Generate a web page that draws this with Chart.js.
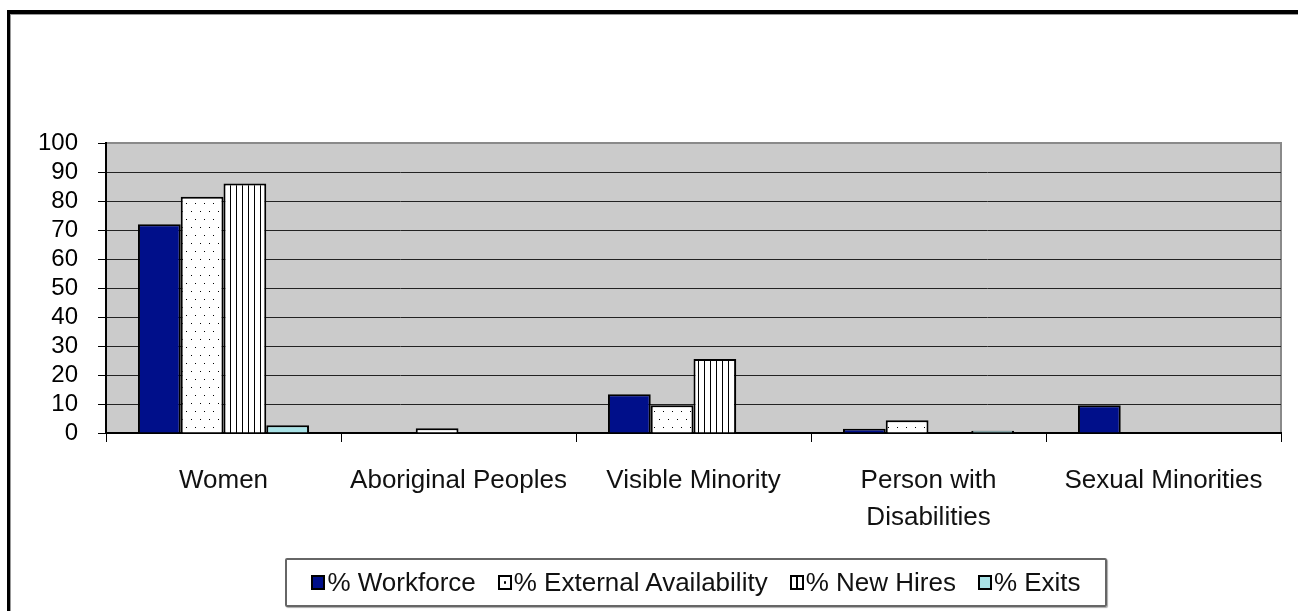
<!DOCTYPE html>
<html>
<head>
<meta charset="utf-8">
<script src="https://cdn.jsdelivr.net/npm/chart.js@4.4.1/dist/chart.umd.min.js"></script>
<style>
  html, body { margin: 0; padding: 0; background: #fff; }
  #wrap { position: relative; width: 1298px; height: 611px; overflow: hidden; }
  #chart-box { position: absolute; left: 0; top: 0; width: 1298px; height: 611px; }
  .frame { position: absolute; left: 7px; top: 10px; width: 1400px; height: 700px;
           border-left: 3px solid #000; border-top: 4px solid #000; }
  .frame-inner { position: absolute; left: 0; top: 0; width: 100%; height: 100%;
                 border-left: 1px solid #999; border-top: 1px solid #999; }
  #legend { position: absolute; left: 285px; top: 558px; width: 818px; height: 45px;
            border: 2px solid #666; border-radius: 2px; box-shadow: 1px 1px 1px #aaa;
            display: flex; align-items: center; justify-content: center; gap: 22px;
            font-family: "Liberation Sans", Arial, sans-serif; font-size: 26px; color: #111;
            white-space: nowrap; }
  .item { display: flex; align-items: center; }
  .sw { display: inline-block; width: 10px; height: 11px; border: 2px solid #000;
        margin-right: 2px; box-sizing: content-box; position: relative; }
</style>
</head>
<body>
<div id="wrap">
  <div class="frame"><div class="frame-inner"></div></div>
  <div id="chart-box"><canvas id="chart"></canvas></div>
  <div id="legend"></div>
</div>
<script>
// ── Data ─────────────────────────────────────────────────────────────────────

const categories = ['Women', 'Aboriginal Peoples', 'Visible Minority', ['Person with', 'Disabilities'], 'Sexual Minorities'];
const seriesNames = ['% Workforce', '% External Availability', '% New Hires', '% Exits'];
const workforce = [72, 0, 13.4, 1.5, 9.6];
const externalAvailability = [81.5, 1.6, 9.6, 4.4, 0];
const newHires = [86, 0, 25.5, 0, 0];
const exits = [2.7, 0, 0, 0.8, 0];
const yTicks = [0, 10, 20, 30, 40, 50, 60, 70, 80, 90, 100];

const NAVY = '#000f8a';
const CYAN = '#a8e2e6';
const FONT = '"Liberation Sans", Arial, sans-serif';

// ── Patterns ─────────────────────────────────────────────────────────────────

function dotPattern() {
  const c = document.createElement('canvas');
  c.width = 9; c.height = 16;
  const g = c.getContext('2d');
  g.fillStyle = '#fff'; g.fillRect(0, 0, 9, 16);
  g.fillStyle = '#000';
  g.fillRect(2, 3, 1, 1);
  g.fillRect(6, 11, 1, 1);
  return g.createPattern(c, 'repeat');
}

function linePattern() {
  const c = document.createElement('canvas');
  c.width = 6; c.height = 4;
  const g = c.getContext('2d');
  g.fillStyle = '#fff'; g.fillRect(0, 0, 6, 4);
  g.fillStyle = '#000';
  g.fillRect(2, 0, 1, 4);
  return g.createPattern(c, 'repeat');
}

// ── Plugins ──────────────────────────────────────────────────────────────────

const plotBg = {
  id: 'plotBg',
  beforeDraw(chart) {
    const { ctx, chartArea: a } = chart;
    ctx.save();
    ctx.fillStyle = '#cbcbcb';
    ctx.fillRect(a.left, a.top, a.right - a.left, a.bottom - a.top);
    ctx.strokeStyle = '#8a8a8a';
    ctx.lineWidth = 2;
    ctx.beginPath();
    ctx.moveTo(a.left, a.top);
    ctx.lineTo(a.right, a.top);
    ctx.lineTo(a.right, a.bottom);
    ctx.stroke();
    ctx.restore();
  }
};

// ── Chart ────────────────────────────────────────────────────────────────────

const fills = [NAVY, dotPattern(), linePattern(), CYAN];
const values = [workforce, externalAvailability, newHires, exits];

new Chart(document.getElementById('chart'), {
  type: 'bar',
  data: {
    labels: categories,
    datasets: seriesNames.map((name, i) => ({
      label: name,
      data: values[i],
      backgroundColor: fills[i],
      borderColor: '#000',
      borderWidth: 2,
      borderSkipped: 'bottom',
      barPercentage: 1,
      categoryPercentage: 0.728
    }))
  },
  options: {
    responsive: true,
    maintainAspectRatio: false,
    animation: false,
    layout: { padding: { top: 143, right: 17, left: 0, bottom: 78 } },
    plugins: { legend: { display: false }, tooltip: { enabled: false } },
    scales: {
      x: {
        afterFit(scale) { scale.height = 100; },
        grid: { drawOnChartArea: false, drawTicks: true, tickLength: 9, color: '#000', offset: true },
        border: { color: '#000', width: 2 },
        ticks: { color: '#111', font: { family: FONT, size: 26, lineHeight: 1.4 }, padding: 21, maxRotation: 0, autoSkip: false }
      },
      y: {
        min: 0, max: 100,
        afterFit(scale) { scale.width = 106; },
        afterBuildTicks(scale) { scale.ticks = yTicks.map(v => ({ value: v })); },
        grid: {
          color: ctx => ctx.tick && ctx.tick.value === 100 ? '#8a8a8a' : '#222',
          tickColor: '#000', tickLength: 8, lineWidth: 1
        },
        border: { color: '#000', width: 2 },
        ticks: { color: '#000', font: { family: FONT, size: 24 }, padding: 20, autoSkip: false }
      }
    }
  },
  plugins: [plotBg]
});

// ── Legend ───────────────────────────────────────────────────────────────────

const swatchStyles = [
  `background:${NAVY};`,
  'background:#fff radial-gradient(circle at 50% 50%, #000 0 1px, transparent 1.5px);',
  'background:#fff linear-gradient(90deg, transparent 4px, #000 4px 6px, transparent 6px);',
  `background:${CYAN};`
];
document.getElementById('legend').innerHTML = seriesNames.map((n, i) =>
  `<span class="item"><span class="sw" style="${swatchStyles[i]}"></span>${n}</span>`
).join('');
</script>
</body>
</html>
